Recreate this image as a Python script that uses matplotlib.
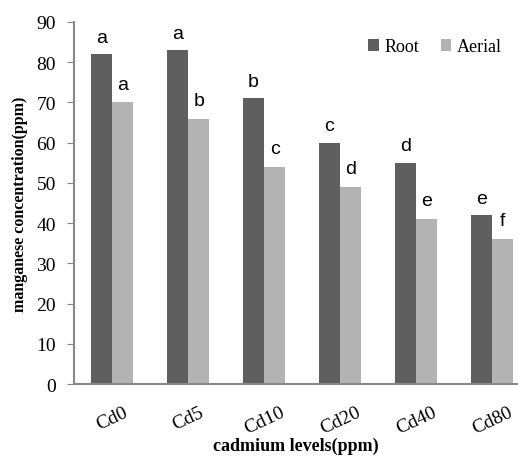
import numpy as np
import matplotlib
matplotlib.use('Agg')
import matplotlib.pyplot as plt

#%% data
levels = ['Cd0', 'Cd5', 'Cd10', 'Cd20', 'Cd40', 'Cd80']
root = [82, 83, 71, 60, 55, 42]
aerial = [70, 66, 54, 49, 41, 36]
root_letters = ['a', 'a', 'b', 'c', 'd', 'e']
aerial_letters = ['a', 'b', 'c', 'd', 'e', 'f']

#%% plot
plt.rcParams['font.family'] = 'Liberation Serif'
fig = plt.figure(figsize=(5.18, 4.6), dpi=100)
ax = fig.add_axes([0.143, 0.163, 0.857, 0.787])

x = np.arange(len(levels))
w = 0.28
b1 = ax.bar(x - w/2, root, w, color='#5f5f5f', label='Root')
b2 = ax.bar(x + w/2, aerial, w, color='#b3b3b3', label='Aerial')

for rect, t in zip(b1, root_letters):
    ax.annotate(t, (rect.get_x() + rect.get_width()/2, rect.get_height()),
                xytext=(0, 6), textcoords='offset points', ha='center', va='bottom',
                fontsize=14, family='Liberation Sans')
for rect, t in zip(b2, aerial_letters):
    ax.annotate(t, (rect.get_x() + rect.get_width()/2, rect.get_height()),
                xytext=(0, 7), textcoords='offset points', ha='center', va='bottom',
                fontsize=14, family='Liberation Sans')

ax.set_xlim(-0.5, 5.34)
ax.set_ylim(0, 90)
ax.set_yticks(range(0, 91, 10))
ax.set_xticks(x)
ax.set_xticklabels(levels, rotation=25, ha='center', fontsize=14)
ax.tick_params(axis='y', labelsize=14, length=5, color='#888888', pad=8)
ax.tick_params(axis='x', length=0, pad=14)

for s in ['top', 'right']:
    ax.spines[s].set_visible(False)
for s in ['left', 'bottom']:
    ax.spines[s].set_color('#888888')
    ax.spines[s].set_linewidth(1.5)

ax.set_ylabel('manganese concentration(ppm)', fontsize=11.5, fontweight='bold', labelpad=6)
ax.set_xlabel('cadmium levels(ppm)', fontsize=13, fontweight='bold', labelpad=0)

ax.legend(loc='upper right', bbox_to_anchor=(1.0, 1.0), ncol=2, frameon=False, fontsize=13,
          handlelength=0.6, handleheight=0.6, handletextpad=0.3, columnspacing=1.2)

plt.savefig('out.png', dpi=100)
